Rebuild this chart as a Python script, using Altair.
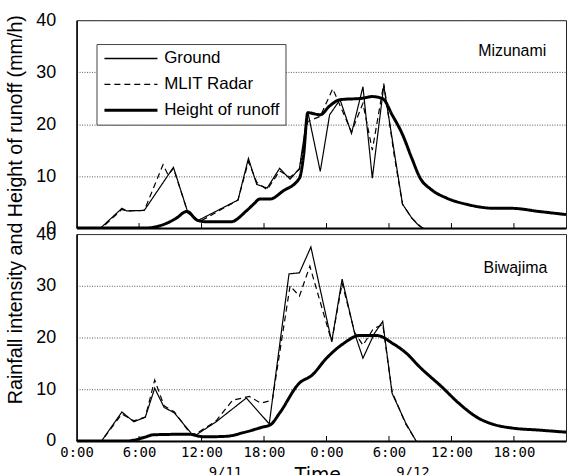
import altair as alt
import pandas as pd

# ---------------- data ----------------
series_names = ["Ground", "MLIT Radar", "Height of runoff"]
series_dash = [[1, 0], [6, 4], [1, 0]]

tick_hours = [0, 6, 12, 18, 24, 30, 36, 42]
tick_labels = ["0:00", "6:00", "12:00", "18:00", "0:00", "6:00", "12:00", "18:00"]
date_hours = [14.3, 32.3]
date_labels = ["9/11", "9/12"]

station_names = ["Mizunami", "Biwajima"]
station_label_t = [45.1, 45.2]
station_label_v = [34.0, 33.5]

# Mizunami (hours from 9/11 0:00, mm/h)
miz_ground_t = [0, 2.3, 4.35, 4.8, 6.5, 9.3, 10.7, 11.7, 15.5, 16.5, 17.3, 18.3, 19.5, 20.5, 21.4,
                22.2, 23.4, 24.3, 25.3, 26.4, 27.5, 28.4, 29.5, 31.3, 32.2, 32.9, 33.3]
miz_ground_v = [0, 0, 3.8, 3.3, 3.4, 11.7, 2.9, 1.5, 5.4, 13.4, 8.4, 7.7, 11.5, 9.4, 11.5,
                22.4, 10.9, 21.8, 24.7, 18.2, 27.2, 9.6, 27.4, 4.6, 1.9, 0.4, 0]
miz_radar_t = [0, 2.4, 4.35, 4.8, 6.5, 8.3, 8.8, 9.3, 10.7, 11.8, 15.5, 16.5, 17.3, 18.3, 19.5,
               20.5, 21.4, 22.2, 23.4, 24.6, 26.4, 27.5, 28.4, 29.5, 30.5, 31.3, 32.2, 33.2]
miz_radar_v = [0, 0, 3.6, 3.3, 3.4, 12.2, 10.2, 11.5, 2.9, 1.2, 5.4, 12.8, 8.8, 7.4, 11,
               9.8, 11.3, 20.5, 21.5, 26.8, 18.5, 24, 15, 27.8, 14, 4.6, 1.9, 0]
miz_runoff_t = [0, 6.5, 7.5, 8.5, 9.5, 10.6, 11.6, 12.5, 14.8, 16.3, 17, 17.6, 18.6, 19.8, 21.4,
                21.8, 22.2, 23.4, 24.3, 25.3, 27.5, 28.4, 29.4, 30.3, 31.3, 32.2, 33, 34, 35.5,
                37.4, 40.2, 41.8, 44.4, 47]
miz_runoff_v = [0, 0, 0.2, 0.8, 1.8, 3.2, 1.5, 1.2, 1.2, 3.3, 4.6, 5.6, 5.6, 7.1, 9.6,
                14, 22.2, 21.8, 23.5, 24.7, 25, 25.3, 24.9, 21.8, 18, 13.4, 9.6, 7.5, 5.8,
                4.6, 3.8, 3.8, 3.2, 2.6]

# Biwajima
biw_ground_t = [0, 2.4, 4.35, 5.5, 6.6, 7.5, 8.4, 9.4, 11, 11.5, 13.4, 16.3, 18.5, 20.4, 21.4,
                22.5, 24.5, 25.5, 26.7, 27.5, 28.6, 29.4, 30.3, 31.6, 32.6]
biw_ground_v = [0, 0, 5.6, 3.7, 4.6, 10.2, 6.5, 5.4, 1.5, 1.2, 3.7, 8.3, 3.3, 32.3, 32.5,
                37.5, 19.2, 31.3, 20.8, 16, 20.8, 23.1, 9.2, 3.5, 0]
biw_radar_t = [0, 2.4, 4.35, 5.5, 6.6, 7.5, 8.4, 9.4, 11, 11.5, 13.4, 15, 16.6, 17.7, 18.8,
               20.5, 21.4, 22.4, 24.5, 25.5, 26.7, 27.5, 28.5, 29.4, 30.3, 31.6, 32.6]
biw_radar_v = [0, 0, 5.2, 3.9, 4.6, 11.8, 6.8, 5.6, 1.2, 1.4, 3.9, 7.9, 8.6, 7.3, 7.9,
               30, 28, 33.8, 19.2, 30.5, 21, 18.5, 21.7, 22.5, 9.5, 3.3, 0]
biw_runoff_t = [0, 4.9, 6.5, 7.4, 10.8, 12.2, 14.4, 16, 17.9, 18.6, 19.5, 21.4, 22.6, 24, 25.6,
                27.2, 28.8, 30.4, 31.7, 32.9, 35.1, 36.7, 38.6, 40.2, 41.8, 44.4, 47]
biw_runoff_v = [0, 0, 0.7, 1.2, 1.3, 0.8, 0.9, 1.6, 2.7, 3.1, 5.4, 11.2, 12.7, 16, 18.8,
                20.4, 20.4, 18.8, 16.9, 14.4, 10.4, 7.3, 4.4, 3.1, 2.5, 2.1, 1.7]

# ---------------- chart ----------------
PLOT_W = 492
X_DOMAIN = [0, 47]
FONT = "Liberation Sans"

label_expr = "[" + ",".join("'%s'" % s for s in tick_labels) + "][indexof(" + \
    "[" + ",".join(str(h) for h in tick_hours) + "], datum.value)]"


def make_panel(idx, gt, gv, rt, rv, ot, ov, height, top):
    rain_df = pd.DataFrame({
        "t": gt + rt,
        "v": gv + rv,
        "series": [series_names[0]] * len(gt) + [series_names[1]] * len(rt),
    })
    runoff_df = pd.DataFrame({"t": ot, "v": ov, "series": [series_names[2]] * len(ot)})
    tick_df = pd.DataFrame({"t": tick_hours[1:]})
    station_df = pd.DataFrame({"t": [station_label_t[idx]], "v": [station_label_v[idx]],
                               "name": [station_names[idx]]})

    if top:
        xaxis = alt.Axis(labels=False, ticks=False, title=None, grid=False,
                         domainColor="black", domainWidth=2)
        yaxis = alt.Axis(values=[0, 10, 20, 30, 40], grid=True, gridColor="#555",
                         gridDash=[1, 1.5], gridWidth=1, ticks=False,
                         labelFont=FONT, labelFontSize=18, labelPadding=21, labelColor="black",
                         domainColor="black", domainWidth=1.5,
                         title="Rainfall intensity and Height of runoff (mm/h)",
                         titleFont=FONT, titleFontSize=19.8, titleFontWeight="normal",
                         titleColor="black", titleX=-61, titleY=190, titleAngle=270,
                         titleAlign="center", titleBaseline="middle")
        legend = alt.Legend(
            title=None, orient="none", legendX=20, legendY=24,
            symbolType="M-1,0H7.2", symbolSize=169, symbolStrokeColor="black",
            symbolFillColor="transparent",
            symbolStrokeWidth={"expr": "datum.value === 'Height of runoff' ? 3 : 1.3"},
            labelFont=FONT, labelFontSize=17, labelColor="black", labelOffset=45,
            rowPadding=8, padding=6, fillColor="white", strokeColor="#444",
        )
    else:
        xaxis = alt.Axis(values=tick_hours, labelExpr=label_expr, ticks=False, grid=False,
                         labelFont="DejaVu Sans Mono", labelFontSize=14, labelPadding=5,
                         labelColor="black", labelFlush=False,
                         domainColor="black", domainWidth=2,
                         title="Time", titleFont="DejaVu Sans", titleFontSize=19,
                         titleFontWeight="normal", titleColor="black",
                         titleX=242, titleY=25, titleBaseline="top", titleAlign="center")
        yaxis = alt.Axis(values=[0, 10, 20, 30, 40], grid=True, gridColor="#555",
                         gridDash=[1, 1.5], gridWidth=1, ticks=False,
                         labelFont=FONT, labelFontSize=18, labelPadding=21, labelColor="black",
                         domainColor="black", domainWidth=1.5, title=None)
        legend = None

    x = alt.X("t:Q", scale=alt.Scale(domain=X_DOMAIN, nice=False, zero=False), axis=xaxis)
    y = alt.Y("v:Q", scale=alt.Scale(domain=[0, 40], nice=False), axis=yaxis)
    dash = alt.StrokeDash("series:N",
                          scale=alt.Scale(domain=series_names, range=series_dash),
                          legend=legend)

    runoff_layer = alt.Chart(runoff_df).mark_line(
        color="black", strokeWidth=3, interpolate="monotone", clip=True
    ).encode(x=x, y=y, strokeDash=dash)
    rain_layer = alt.Chart(rain_df).mark_line(
        color="black", strokeWidth=1.2, clip=True
    ).encode(x=x, y=y, strokeDash=dash)
    tick_layer = alt.Chart(tick_df).mark_rule(color="black", strokeWidth=1).encode(
        x=x, y=alt.value(height), y2=alt.value(height - 5))
    station_layer = alt.Chart(station_df).mark_text(
        font=FONT, fontSize=16, color="black", align="right", baseline="middle"
    ).encode(x=x, y=y, text="name:N")

    layers = [runoff_layer, rain_layer, tick_layer, station_layer]
    if not top:
        date_df = pd.DataFrame({"t": date_hours, "label": date_labels})
        date_layer = alt.Chart(date_df).mark_text(
            font="DejaVu Sans Mono", fontSize=14, color="black", align="center",
            baseline="top"
        ).encode(x=x, y=alt.value(height + 25), text="label:N")
        layers.append(date_layer)

    return alt.layer(*layers).properties(width=PLOT_W, height=height)


top_panel = make_panel(0, miz_ground_t, miz_ground_v, miz_radar_t, miz_radar_v,
                       miz_runoff_t, miz_runoff_v, 209, True)
bottom_panel = make_panel(1, biw_ground_t, biw_ground_v, biw_radar_t, biw_radar_v,
                          biw_runoff_t, biw_runoff_v, 208, False)

chart = alt.vconcat(top_panel, bottom_panel, spacing=6, bounds="flush").resolve_scale(
    strokeDash="independent"
).resolve_legend(
    strokeDash="independent"
).configure_view(
    stroke="#222", strokeWidth=1
).properties(
    padding={"left": 5, "top": 9, "right": 0, "bottom": 0},
    background="white",
)

chart.save("out.html", embed_options={"renderer": "svg", "actions": False})
